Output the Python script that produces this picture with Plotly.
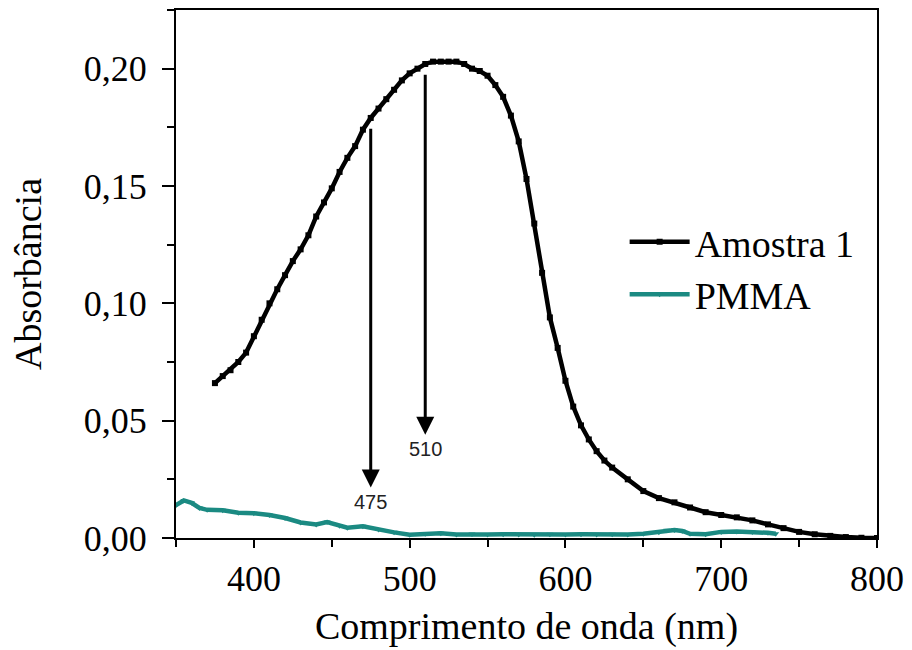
import plotly.graph_objects as go

# Amostra 1 (black)
amostra_wl = [375, 380, 385, 390, 395, 400, 405, 410, 415, 420, 425, 430, 435, 440, 445,
              450, 455, 460, 465, 470, 475, 480, 485, 490, 495, 500, 505, 510, 515, 520,
              525, 530, 535, 540, 545, 550, 555, 560, 565, 570, 575, 580, 585, 590, 595,
              600, 605, 610, 615, 620, 625, 630, 640, 650, 660, 670, 680, 690, 700, 710,
              720, 730, 740, 750, 760, 770, 780, 790, 800]
amostra_abs = [0.066, 0.069, 0.0715, 0.075, 0.079, 0.086, 0.093, 0.100, 0.106, 0.112,
               0.118, 0.123, 0.129, 0.137, 0.143, 0.149, 0.156, 0.162, 0.167, 0.174,
               0.179, 0.183, 0.187, 0.191, 0.195, 0.198, 0.200, 0.202, 0.203, 0.203,
               0.203, 0.203, 0.202, 0.200, 0.199, 0.197, 0.193, 0.188, 0.180, 0.169,
               0.153, 0.134, 0.113, 0.094, 0.081, 0.067, 0.056, 0.048, 0.042, 0.037,
               0.033, 0.030, 0.025, 0.020, 0.017, 0.0152, 0.013, 0.011, 0.0098, 0.0088,
               0.0075, 0.0058, 0.0042, 0.0026, 0.0016, 0.0009, 0.0004, 0.0001, 0.0]

# PMMA (teal)
pmma_wl = [350, 355, 360, 365, 370, 380, 390, 400, 410, 420, 430, 440, 447, 455, 460,
           470, 480, 490, 500, 510, 520, 530, 540, 550, 560, 570, 580, 590, 600, 610,
           620, 630, 640, 650, 660, 665, 670, 675, 680, 690, 700, 710, 720, 730, 735]
pmma_abs = [0.014, 0.016, 0.015, 0.0128, 0.012, 0.0118, 0.0108, 0.0106, 0.0098, 0.0085,
            0.0066, 0.0058, 0.0068, 0.0052, 0.0044, 0.0050, 0.0036, 0.0024, 0.0014, 0.0018,
            0.0020, 0.0015, 0.0017, 0.0015, 0.0016, 0.0015, 0.0014, 0.0016, 0.0015, 0.0016,
            0.0015, 0.0016, 0.0015, 0.0018, 0.0025, 0.0033, 0.0034, 0.0030, 0.0018, 0.0016,
            0.0026, 0.0028, 0.0026, 0.0022, 0.0018]

# Peak markers (arrows)
peak_wl = [475, 510]
peak_labels = ["475", "510"]
arrow_top = [0.175, 0.198]
arrow_tip = [0.0215, 0.044]

x_ticks = [400, 500, 600, 700, 800]
y_ticks = [0.00, 0.05, 0.10, 0.15, 0.20]

SERIF = "Liberation Serif, Times New Roman, serif"
TEAL = "#1b8a82"

fig = go.Figure()
fig.add_trace(go.Scatter(
    x=amostra_wl, y=amostra_abs, name="Amostra 1", mode="lines+markers",
    line=dict(color="black", width=4.5),
    marker=dict(symbol="square", size=6, color="black"),
))
fig.add_trace(go.Scatter(
    x=pmma_wl, y=pmma_abs, name="PMMA", mode="lines+markers",
    line=dict(color=TEAL, width=4.5),
    marker=dict(symbol="triangle-down", size=6, color=TEAL),
))

for wl, lab, top, tip in zip(peak_wl, peak_labels, arrow_top, arrow_tip):
    fig.add_annotation(x=wl, y=tip, ax=wl, ay=top, xref="x", yref="y",
                       axref="x", ayref="y", text="", showarrow=True,
                       arrowhead=2, arrowsize=1.2, arrowwidth=3, arrowcolor="black")
    fig.add_annotation(x=wl, y=tip, xref="x", yref="y", text=lab, showarrow=False,
                       yanchor="top", yshift=-1,
                       font=dict(family="Liberation Sans, Arial, sans-serif", size=20,
                                 color="#222"))

fig.update_layout(
    width=912, height=650,
    margin=dict(l=176, r=35, t=8, b=112),
    paper_bgcolor="white", plot_bgcolor="white",
    separators=",.",
    font=dict(family=SERIF, size=36, color="black"),
    showlegend=True,
    legend=dict(x=0.64, y=0.62, xanchor="left", yanchor="top",
                bgcolor="rgba(0,0,0,0)", borderwidth=0,
                font=dict(family=SERIF, size=38, color="black"),
                tracegroupgap=0, itemwidth=60),
    xaxis=dict(range=[350, 800], tickvals=x_ticks, ticks="outside", ticklen=8,
               tickwidth=2, tickcolor="black", showline=True, linewidth=2,
               linecolor="black", mirror=True, showgrid=False, zeroline=False,
               minor=dict(dtick=50, tick0=350, ticks="outside", ticklen=7,
                          tickwidth=2, tickcolor="black", showgrid=False),
               title=dict(text="Comprimento de onda (nm)", standoff=14,
                          font=dict(size=38))),
    yaxis=dict(range=[0, 0.225], tickvals=y_ticks, tickformat=".2f", ticks="outside",
               ticklen=12, tickwidth=2, tickcolor="black", showline=True,
               linewidth=2, linecolor="black", mirror=True, showgrid=False,
               zeroline=False, ticklabelstandoff=8,
               minor=dict(dtick=0.025, tick0=0, ticks="outside", ticklen=7,
                          tickwidth=2, tickcolor="black", showgrid=False),
               title=dict(text="Absorbância", standoff=30, font=dict(size=38))),
    xaxis2=dict(range=[350, 800], overlaying="x", side="top", anchor="y",
                tickvals=x_ticks, ticks="inside", ticklen=10, tickwidth=2,
                tickcolor="black", showticklabels=False, showgrid=False,
                zeroline=False, showline=False),
)

fig.write_html("out.html", config={"displayModeBar": False},
               post_script="document.body.style.margin='0';document.body.style.overflow='hidden';")
